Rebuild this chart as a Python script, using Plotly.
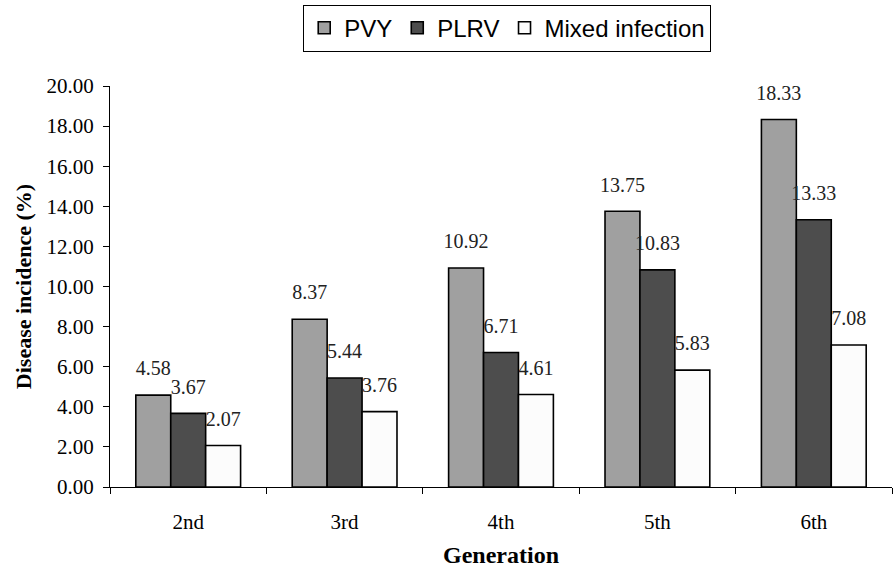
import plotly.graph_objects as go

generations = ["2nd", "3rd", "4th", "5th", "6th"]
pvy = [4.58, 8.37, 10.92, 13.75, 18.33]
plrv = [3.67, 5.44, 6.71, 10.83, 13.33]
mixed = [2.07, 3.76, 4.61, 5.83, 7.08]

series = [
    ("PVY", pvy, "#a0a0a0"),
    ("PLRV", plrv, "#4d4d4d"),
    ("Mixed infection", mixed, "#fcfcfc"),
]

fig = go.Figure()
for i, (name, vals, color) in enumerate(series):
    fig.add_trace(go.Bar(
        x=generations, y=vals, name=name, offsetgroup=str(i),
        marker=dict(color=color, line=dict(color="black", width=1.6)),
    ))
for i, (name, vals, color) in enumerate(series):
    fig.add_trace(go.Scatter(
        x=generations, y=vals, name=name, offsetgroup=str(i),
        mode="markers+text", showlegend=False, hoverinfo="skip",
        marker=dict(size=22, color="rgba(0,0,0,0)"),
        text=[f"{v:.2f}" for v in vals], textposition="top center",
        textfont=dict(family="Liberation Serif", size=20, color="#222"),
        cliponaxis=False,
    ))

fig.update_layout(
    width=893, height=574,
    margin=dict(l=110, r=1, t=86, b=87),
    paper_bgcolor="white", plot_bgcolor="white",
    barmode="group", bargap=0.33, bargroupgap=0,
    scattermode="group", scattergap=0.33,
    font=dict(family="Liberation Serif", size=20, color="black"),
    showlegend=True,
    legend=dict(
        orientation="h", xref="container", yref="container",
        x=0.568, xanchor="center", y=0.992, yanchor="top",
        font=dict(family="Liberation Sans", size=24, color="black"),
        bordercolor="black", borderwidth=1, bgcolor="white",
        itemwidth=30, tracegroupgap=0,
    ),
    xaxis=dict(
        automargin=False,
        showline=True, linecolor="black", linewidth=1,
        ticks="outside", tickson="boundaries", ticklen=6, tickcolor="black",
        ticklabelstandoff=16,
        tickfont=dict(family="Liberation Serif", size=21),
        title=dict(text="<b>Generation</b>", font=dict(family="Liberation Serif", size=24), standoff=12),
    ),
    yaxis=dict(
        automargin=False,
        range=[0, 20], dtick=2, tickformat=".2f",
        showline=True, linecolor="black", linewidth=1,
        ticks="outside", ticklen=6, tickcolor="black",
        ticklabelstandoff=5,
        showgrid=False, zeroline=False,
        tickfont=dict(family="Liberation Serif", size=21),
        title=dict(text="<b>Disease incidence (%)</b>", font=dict(family="Liberation Serif", size=22), standoff=8),
    ),
)

fig.write_html("out.html", config={"displayModeBar": False},
               post_script="document.body.style.margin='0';")
